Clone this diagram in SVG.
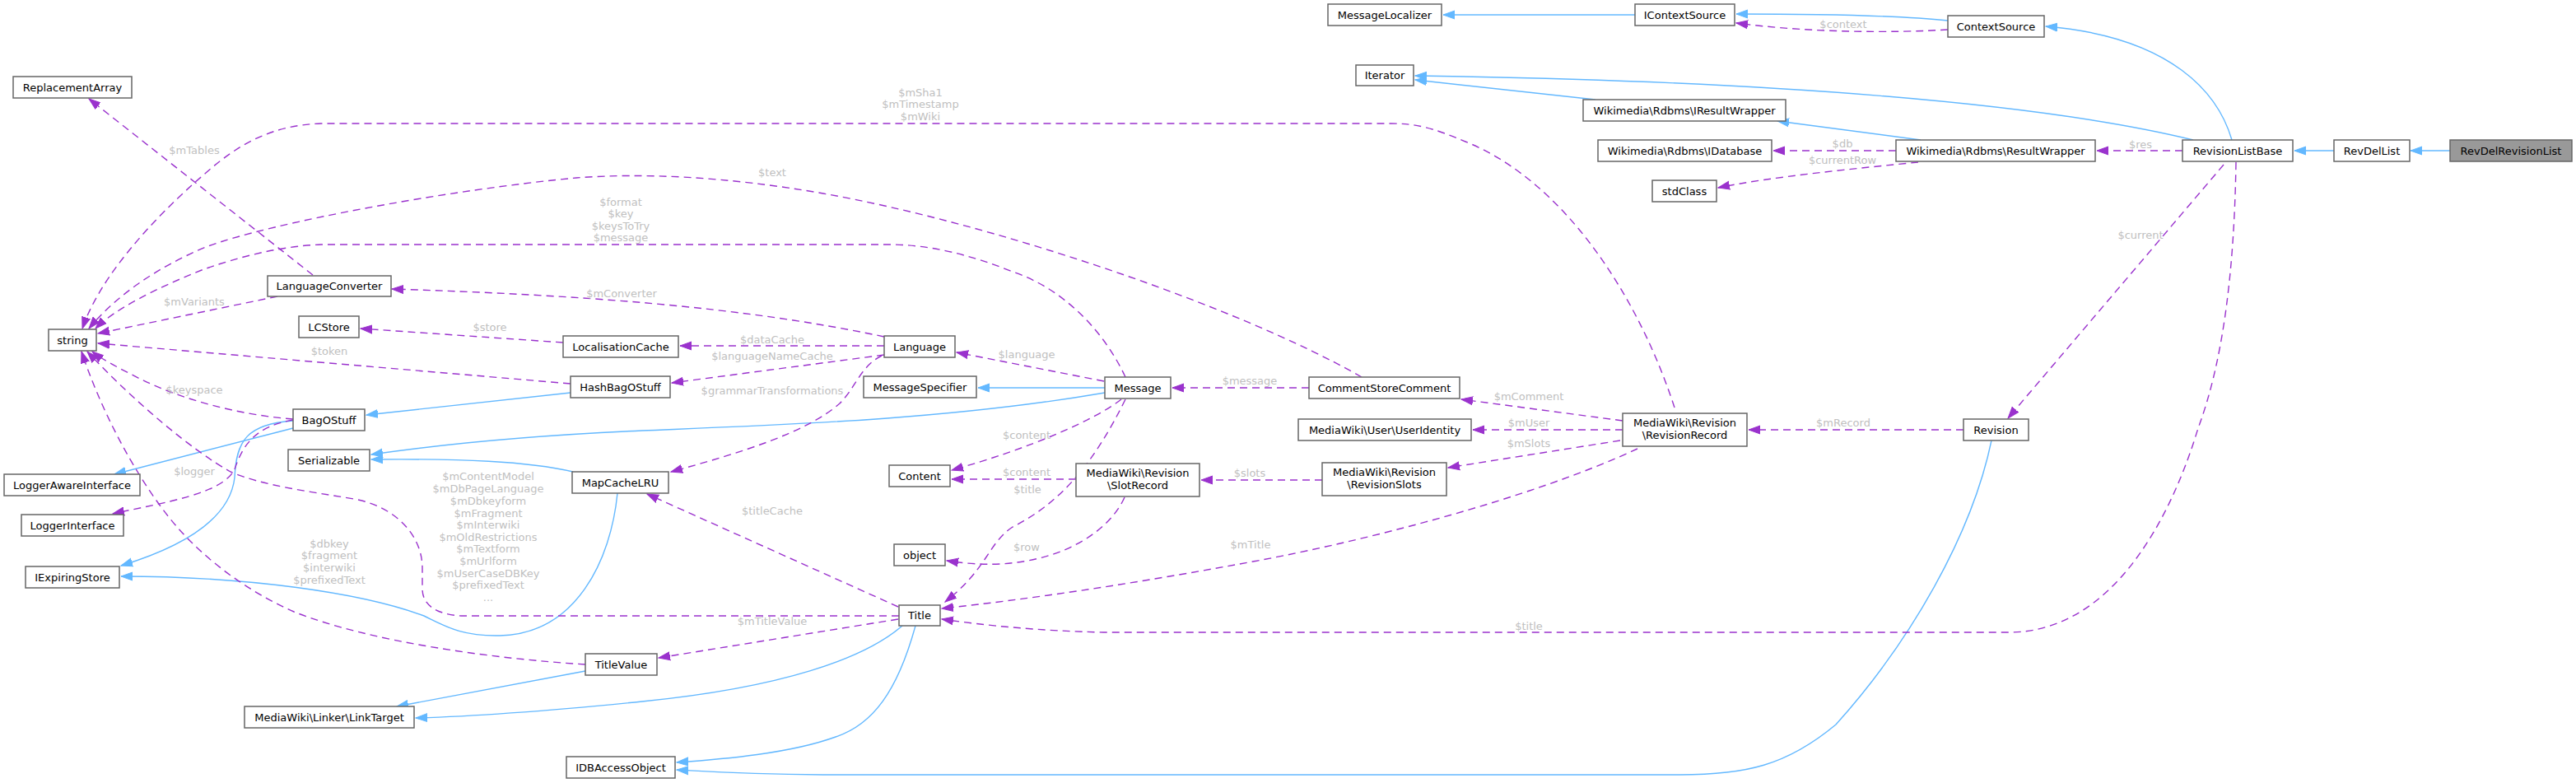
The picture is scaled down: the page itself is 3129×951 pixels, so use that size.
<svg xmlns="http://www.w3.org/2000/svg" width="3129" height="951" viewBox="0 0 3129 951">
<style>
.n rect{fill:#fff;stroke:#666;stroke-width:1.5}
.n text{font-family:"DejaVu Sans",sans-serif;font-size:13px;fill:#000;text-anchor:middle}
.b{fill:none;stroke:#63b8ff;stroke-width:1.4}
.p{fill:none;stroke:#9a32cd;stroke-width:1.4;stroke-dasharray:9,6}
.l{font-family:"DejaVu Sans",sans-serif;font-size:13px;fill:#c0c0c0;text-anchor:middle}
</style>
<defs>
<marker id="ab" markerUnits="userSpaceOnUse" markerWidth="16" markerHeight="12" refX="14" refY="6" orient="auto" viewBox="0 0 16 12"><path d="M0,1 L14,6 L0,11 z" fill="#63b8ff" stroke="#63b8ff"/></marker>
<marker id="ap" markerUnits="userSpaceOnUse" markerWidth="16" markerHeight="12" refX="14" refY="6" orient="auto" viewBox="0 0 16 12"><path d="M0,1 L14,6 L0,11 z" fill="#9a32cd" stroke="#9a32cd"/></marker>
</defs>
<rect width="3129" height="951" fill="#fff"/>
<g id="connectors">
<g marker-end="url(#ab)">
<path class="b" d="M2976,183 L2928,183"/>
<path class="b" d="M2835,183 L2787,183"/>
<path class="b" d="M2711,170 C2695,115 2640,45 2485,32"/>
<path class="b" d="M2664,170 C2480,125 2150,98 1719,92"/>
<path class="b" d="M2366,25 C2300,18 2200,17 2109,17"/>
<path class="b" d="M1986,18 L1753,18"/>
<path class="b" d="M2333,170 L2159,147"/>
<path class="b" d="M1938,121 L1719,97"/>
<path class="b" d="M1342,471 L1188,471"/>
<path class="b" d="M1342,477 C1150,510 950,516 780,523 C620,530 520,542 451,552"/>
<path class="b" d="M696,573 C640,560 560,557 451,558"/>
<path class="b" d="M693,477 L445,504"/>
<path class="b" d="M356,520 L139,576"/>
<path class="b" d="M356,511 C300,515 287,535 285,580 C280,625 235,660 147,687"/>
<path class="b" d="M750,599 C742,680 700,770 607,772 C560,773 540,760 515,748 C440,720 300,700 147,700"/>
<path class="b" d="M711,815 L482,858"/>
<path class="b" d="M1096,760 C1050,800 950,835 780,852 C680,862 580,870 505,872"/>
<path class="b" d="M1112,760 C1090,840 1060,880 1015,895 C960,915 880,922 822,926"/>
<path class="b" d="M2419,535 C2395,650 2320,780 2230,880 C2170,930 2120,941 2040,941 L1000,941 C900,940 860,937 822,935"/>
</g>
<g marker-end="url(#ap)">
<path class="p" d="M2651,183 L2547,183"/>
<path class="p" d="M2303,183 L2154,183"/>
<path class="p" d="M2330,197 C2250,205 2150,215 2087,228"/>
<path class="p" d="M2366,36 C2300,40 2200,40 2109,28"/>
<path class="p" d="M2701,200 L2439,508"/>
<path class="p" d="M2716,197 C2714,330 2700,440 2670,520 C2640,620 2570,768 2440,768 L1340,768 C1260,766 1200,760 1144,752"/>
<path class="p" d="M2385,522 L2124,522"/>
<path class="p" d="M1971,511 L1775,485"/>
<path class="p" d="M1971,522 L1789,522"/>
<path class="p" d="M1968,535 L1759,568"/>
<path class="p" d="M1989,545 C1860,605 1650,660 1500,686 C1380,708 1250,728 1144,739"/>
<path class="p" d="M2034,495 C1990,360 1900,220 1780,172 C1740,155 1720,150 1690,150 L390,150 C330,152 290,175 250,210 C180,270 120,340 100,399"/>
<path class="p" d="M1654,458 C1500,370 1200,270 1000,235 C880,214 780,210 700,216 C550,230 330,270 250,300 C190,325 140,360 108,399"/>
<path class="p" d="M1367,458 C1340,400 1290,350 1230,330 C1180,310 1130,297 1080,297 L390,297 C340,299 290,312 245,328 C190,350 140,375 116,399"/>
<path class="p" d="M380,334 L108,120"/>
<path class="p" d="M337,360 L119,405"/>
<path class="p" d="M1074,409 C900,372 700,358 476,351"/>
<path class="p" d="M1074,420 L826,420"/>
<path class="p" d="M684,416 L438,399"/>
<path class="p" d="M1074,431 L816,465"/>
<path class="p" d="M1071,432 C1045,445 1040,470 1020,490 C980,525 900,550 815,573"/>
<path class="p" d="M693,466 L119,417"/>
<path class="p" d="M356,509 C290,504 220,485 170,460 C140,445 122,435 112,427"/>
<path class="p" d="M356,510 C310,518 295,540 285,570 C270,600 200,610 137,624"/>
<path class="p" d="M1092,748 L560,748 C530,746 513,735 513,715 L513,690 C513,650 480,615 430,606 C370,596 320,590 280,573 C235,548 165,490 106,427"/>
<path class="p" d="M711,807 C600,800 450,780 357,743 C300,718 250,680 215,640 C180,600 130,520 99,427"/>
<path class="p" d="M1091,752 L800,799"/>
<path class="p" d="M1091,737 L786,600"/>
<path class="p" d="M1341,463 L1162,428"/>
<path class="p" d="M1362,485 C1330,510 1250,545 1156,571"/>
<path class="p" d="M1307,582 L1156,582"/>
<path class="p" d="M1367,485 C1330,560 1290,610 1230,640 C1200,660 1200,690 1148,731"/>
<path class="p" d="M1366,604 C1350,640 1300,680 1215,685 C1190,686 1170,684 1150,681"/>
<path class="p" d="M1606,583 L1459,583"/>
<path class="p" d="M1590,471 L1424,471"/>
</g>
<g id="labels">
<text class="l" x="2600" y="180">$res</text>
<text class="l" x="2238" y="179">$db</text>
<text class="l" x="2238" y="199">$currentRow</text>
<text class="l" x="2239" y="34">$context</text>
<text class="l" x="2600" y="290">$current</text>
<text class="l" x="1857" y="765">$title</text>
<text class="l" x="2239" y="518">$mRecord</text>
<text class="l" x="1857" y="486">$mComment</text>
<text class="l" x="1857" y="518">$mUser</text>
<text class="l" x="1857" y="543">$mSlots</text>
<text class="l" x="1519" y="666">$mTitle</text>
<text class="l" x="1118" y="117">$mSha1</text>
<text class="l" x="1118" y="131">$mTimestamp</text>
<text class="l" x="1118" y="146">$mWiki</text>
<text class="l" x="938" y="214">$text</text>
<text class="l" x="754" y="250">$format</text>
<text class="l" x="754" y="264">$key</text>
<text class="l" x="754" y="279">$keysToTry</text>
<text class="l" x="754" y="293">$message</text>
<text class="l" x="236" y="187">$mTables</text>
<text class="l" x="236" y="371">$mVariants</text>
<text class="l" x="755" y="361">$mConverter</text>
<text class="l" x="938" y="417">$dataCache</text>
<text class="l" x="595" y="402">$store</text>
<text class="l" x="938" y="437">$languageNameCache</text>
<text class="l" x="938" y="479">$grammarTransformations</text>
<text class="l" x="400" y="431">$token</text>
<text class="l" x="236" y="478">$keyspace</text>
<text class="l" x="236" y="577">$logger</text>
<text class="l" x="593" y="583">$mContentModel</text>
<text class="l" x="593" y="598">$mDbPageLanguage</text>
<text class="l" x="593" y="613">$mDbkeyform</text>
<text class="l" x="593" y="628">$mFragment</text>
<text class="l" x="593" y="642">$mInterwiki</text>
<text class="l" x="593" y="657">$mOldRestrictions</text>
<text class="l" x="593" y="671">$mTextform</text>
<text class="l" x="593" y="686">$mUrlform</text>
<text class="l" x="593" y="701">$mUserCaseDBKey</text>
<text class="l" x="593" y="715">$prefixedText</text>
<text class="l" x="593" y="730">...</text>
<text class="l" x="400" y="665">$dbkey</text>
<text class="l" x="400" y="679">$fragment</text>
<text class="l" x="400" y="694">$interwiki</text>
<text class="l" x="400" y="709">$prefixedText</text>
<text class="l" x="938" y="759">$mTitleValue</text>
<text class="l" x="938" y="625">$titleCache</text>
<text class="l" x="1247" y="435">$language</text>
<text class="l" x="1247" y="533">$content</text>
<text class="l" x="1247" y="578">$content</text>
<text class="l" x="1248" y="599">$title</text>
<text class="l" x="1247" y="669">$row</text>
<text class="l" x="1518" y="579">$slots</text>
<text class="l" x="1518" y="467">$message</text>
</g>
</g>
<g id="n_ReplacementArray" class="n"><rect x="16" y="93" width="144" height="26"/><text x="88" y="110.5">ReplacementArray</text></g>
<g id="n_MessageLocalizer" class="n"><rect x="1613" y="5" width="138" height="26"/><text x="1682" y="22.5">MessageLocalizer</text></g>
<g id="n_IContextSource" class="n"><rect x="1986" y="5" width="121" height="26"/><text x="2046.5" y="22.5">IContextSource</text></g>
<g id="n_ContextSource" class="n"><rect x="2366" y="19" width="117" height="26"/><text x="2424.5" y="36.5">ContextSource</text></g>
<g id="n_Iterator" class="n"><rect x="1647" y="79" width="70" height="25"/><text x="1682" y="96">Iterator</text></g>
<g id="n_IResultWrapper" class="n"><rect x="1923" y="121" width="246" height="26"/><text x="2046" y="138.5">Wikimedia\Rdbms\IResultWrapper</text></g>
<g id="n_IDatabase" class="n"><rect x="1941" y="170" width="211" height="26"/><text x="2046.5" y="187.5">Wikimedia\Rdbms\IDatabase</text></g>
<g id="n_ResultWrapper" class="n"><rect x="2303" y="170" width="242" height="26"/><text x="2424" y="187.5">Wikimedia\Rdbms\ResultWrapper</text></g>
<g id="n_stdClass" class="n"><rect x="2007" y="219" width="78" height="26"/><text x="2046" y="236.5">stdClass</text></g>
<g id="n_RevisionListBase" class="n"><rect x="2651" y="170" width="134" height="26"/><text x="2718" y="187.5">RevisionListBase</text></g>
<g id="n_RevDelList" class="n"><rect x="2835" y="170" width="92" height="26"/><text x="2881" y="187.5">RevDelList</text></g>
<g id="n_RevDelRevisionList" class="n"><rect x="2976" y="170" width="148" height="26" style="fill:#999"/><text x="3050" y="187.5">RevDelRevisionList</text></g>
<g id="n_LanguageConverter" class="n"><rect x="325" y="335" width="150" height="25"/><text x="400" y="352">LanguageConverter</text></g>
<g id="n_string" class="n"><rect x="59" y="400" width="58" height="26"/><text x="88" y="417.5">string</text></g>
<g id="n_LCStore" class="n"><rect x="363" y="384" width="73" height="26"/><text x="399.5" y="401.5">LCStore</text></g>
<g id="n_LocalisationCache" class="n"><rect x="684" y="408" width="140" height="26"/><text x="754" y="425.5">LocalisationCache</text></g>
<g id="n_HashBagOStuff" class="n"><rect x="693" y="457" width="121" height="26"/><text x="753.5" y="474.5">HashBagOStuff</text></g>
<g id="n_BagOStuff" class="n"><rect x="356" y="497" width="87" height="26"/><text x="399.5" y="514.5">BagOStuff</text></g>
<g id="n_Serializable" class="n"><rect x="350" y="546" width="99" height="26"/><text x="399.5" y="563.5">Serializable</text></g>
<g id="n_LoggerAwareInterface" class="n"><rect x="5" y="576" width="165" height="26"/><text x="87.5" y="593.5">LoggerAwareInterface</text></g>
<g id="n_MapCacheLRU" class="n"><rect x="695" y="573" width="117" height="26"/><text x="753.5" y="590.5">MapCacheLRU</text></g>
<g id="n_LoggerInterface" class="n"><rect x="26" y="625" width="124" height="26"/><text x="88" y="642.5">LoggerInterface</text></g>
<g id="n_IExpiringStore" class="n"><rect x="31" y="688" width="114" height="26"/><text x="88" y="705.5">IExpiringStore</text></g>
<g id="n_TitleValue" class="n"><rect x="711" y="794" width="87" height="26"/><text x="754.5" y="811.5">TitleValue</text></g>
<g id="n_LinkTarget" class="n"><rect x="297" y="858" width="206" height="26"/><text x="400" y="875.5">MediaWiki\Linker\LinkTarget</text></g>
<g id="n_IDBAccessObject" class="n"><rect x="688" y="919" width="132" height="26"/><text x="754" y="936.5">IDBAccessObject</text></g>
<g id="n_Language" class="n"><rect x="1074" y="408" width="86" height="26"/><text x="1117" y="425.5">Language</text></g>
<g id="n_MessageSpecifier" class="n"><rect x="1049" y="457" width="137" height="26"/><text x="1117.5" y="474.5">MessageSpecifier</text></g>
<g id="n_Message" class="n"><rect x="1342" y="458" width="80" height="26"/><text x="1382" y="475.5">Message</text></g>
<g id="n_Content" class="n"><rect x="1080" y="565" width="74" height="26"/><text x="1117" y="582.5">Content</text></g>
<g id="n_SlotRecord" class="n"><rect x="1307" y="563" width="150" height="40"/><text x="1382" y="579">MediaWiki\Revision</text><text x="1382" y="594">\SlotRecord</text></g>
<g id="n_object" class="n"><rect x="1086" y="661" width="62" height="26"/><text x="1117" y="678.5">object</text></g>
<g id="n_Title" class="n"><rect x="1092" y="735" width="50" height="25"/><text x="1117" y="752">Title</text></g>
<g id="n_CommentStoreComment" class="n"><rect x="1590" y="458" width="183" height="26"/><text x="1681.5" y="475.5">CommentStoreComment</text></g>
<g id="n_UserIdentity" class="n"><rect x="1577" y="509" width="210" height="26"/><text x="1682" y="526.5">MediaWiki\User\UserIdentity</text></g>
<g id="n_RevisionSlots" class="n"><rect x="1606" y="562" width="151" height="40"/><text x="1681.5" y="578">MediaWiki\Revision</text><text x="1681.5" y="593">\RevisionSlots</text></g>
<g id="n_RevisionRecord" class="n"><rect x="1971" y="502" width="151" height="40"/><text x="2046.5" y="518">MediaWiki\Revision</text><text x="2046.5" y="533">\RevisionRecord</text></g>
<g id="n_Revision" class="n"><rect x="2385" y="509" width="79" height="26"/><text x="2424.5" y="526.5">Revision</text></g>
</svg>
